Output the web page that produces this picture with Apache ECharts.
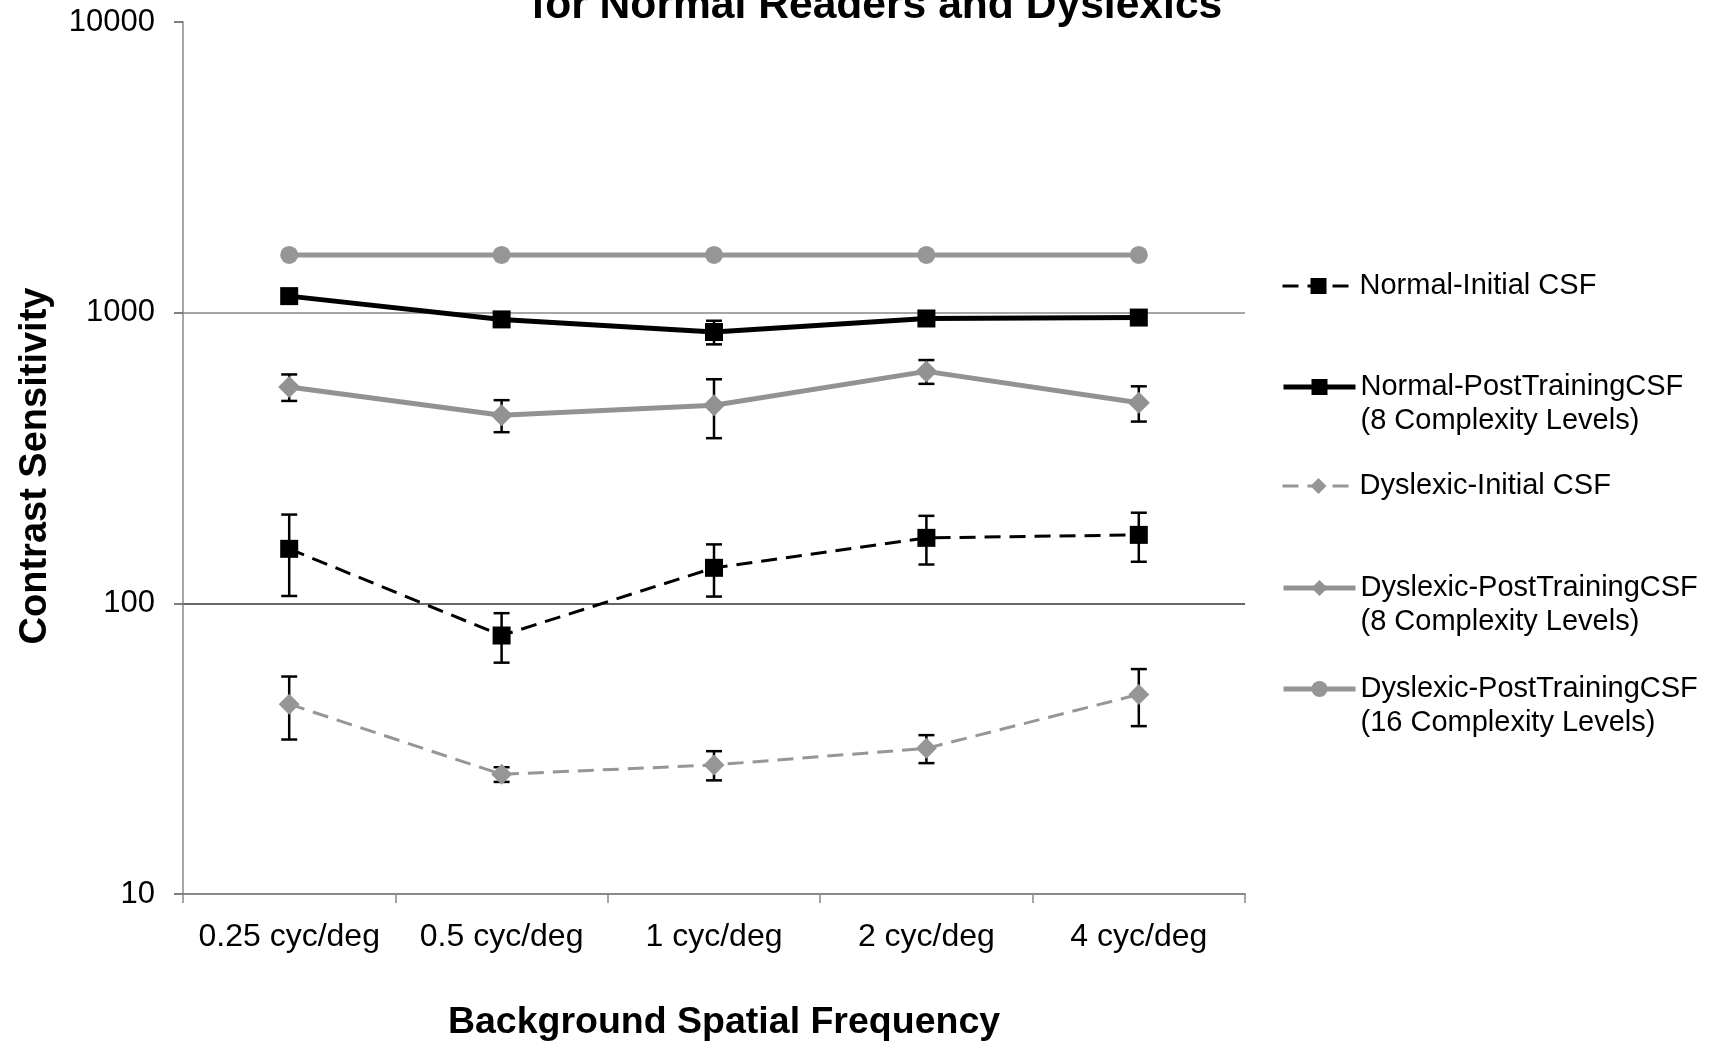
<!DOCTYPE html>
<html>
<head>
<meta charset="utf-8">
<title>Contrast Sensitivity</title>
<script src="https://cdn.jsdelivr.net/npm/echarts@6/dist/echarts.min.js"></script>
<style>
  html, body { margin: 0; padding: 0; background: #fff; }
  #chart { width: 1710px; height: 1041px; }
</style>
</head>
<body>
<div id="chart"></div>
<script>
// Background spatial frequencies (x categories)
const categories = ['0.25 cyc/deg', '0.5 cyc/deg', '1 cyc/deg', '2 cyc/deg', '4 cyc/deg'];

// Log-axis tick labels
const yTickLabels = ['10', '100', '1000', '10000'];

// Contrast sensitivity means and error half-widths per group
const normalInitial = [154, 77.5, 132.5, 168, 172];
const normalInitialErr = [48, 15, 27, 32, 33];

const normalPost8 = [1140, 948, 858, 955, 962];
const normalPost8Err = [40, 35, 80, 35, 35];

const dyslexicInitial = [45, 25.8, 27.8, 31.7, 48.6];
const dyslexicInitialErr = [11, 1.5, 3.2, 3.5, 10.8];

const dyslexicPost8 = [555, 444, 480, 628, 490];
const dyslexicPost8Err = [58, 56, 110, 59, 68];

const dyslexicPost16 = [1580, 1580, 1580, 1580, 1580];

const seriesNames = [
  'Normal-Initial CSF',
  'Normal-PostTrainingCSF\n(8 Complexity Levels)',
  'Dyslexic-Initial CSF',
  'Dyslexic-PostTrainingCSF\n(8 Complexity Levels)',
  'Dyslexic-PostTrainingCSF\n(16 Complexity Levels)'
];

const FONT = '"Liberation Sans", Arial, Helvetica, sans-serif';
const GREY = '#969696';

// Vertical error bars with caps, positioned through the axes
function errorBars(values, errs) {
  return {
    type: 'custom',
    silent: true,
    z: 1,
    data: values.map((v, i) => [i, v - errs[i], v + errs[i]]),
    encode: { x: 0, y: [1, 2] },
    renderItem: function (params, api) {
      const lo = api.coord([api.value(0), api.value(1)]);
      const hi = api.coord([api.value(0), api.value(2)]);
      const half = 8;
      const style = { stroke: '#000', lineWidth: 2.5 };
      return {
        type: 'group',
        children: [
          { type: 'line', shape: { x1: lo[0], y1: lo[1], x2: hi[0], y2: hi[1] }, style: style },
          { type: 'line', shape: { x1: lo[0] - half, y1: lo[1], x2: lo[0] + half, y2: lo[1] }, style: style },
          { type: 'line', shape: { x1: hi[0] - half, y1: hi[1], x2: hi[0] + half, y2: hi[1] }, style: style }
        ]
      };
    }
  };
}

function lineSeries(name, data, color, width, dashed, symbol, size) {
  return {
    name: name,
    type: 'line',
    data: data,
    z: 3,
    symbol: symbol,
    symbolSize: size,
    showSymbol: true,
    lineStyle: { color: color, width: width, type: dashed ? [16, 9] : 'solid' },
    itemStyle: { color: color, borderWidth: 0 },
    emphasis: { disabled: true }
  };
}

// One legend block per entry so each sits at its own height.
// Two-line entries get a blank leading line so the icon lines up with the first text line.
const legendTops = [269, 336, 469, 537, 638];
const legends = seriesNames.map((name, i) => ({
  data: [name],
  left: 1281,
  top: legendTops[i],
  orient: 'vertical',
  padding: 0,
  itemWidth: 72,
  itemHeight: 20,
  selectedMode: false,
  lineStyle: { width: 'inherit' },
  formatter: function (n) { return n.indexOf('\n') >= 0 ? ' \n' + n : n; },
  textStyle: {
    fontFamily: FONT,
    fontSize: 29,
    color: '#000',
    lineHeight: 34
  }
}));

const chart = echarts.init(document.getElementById('chart'), null, { renderer: 'canvas' });

chart.setOption({
  animation: false,
  backgroundColor: '#fff',
  title: {
    text: 'for Normal Readers and Dyslexics',
    left: 531,
    top: -15,
    padding: 0,
    textStyle: { fontFamily: FONT, fontSize: 42.6, fontWeight: 'bold', color: '#000' }
  },
  legend: legends,
  grid: { left: 183, top: 22, width: 1062, height: 872, outerBoundsMode: 'none', containLabel: false },
  xAxis: {
    type: 'category',
    data: categories,
    boundaryGap: true,
    axisLine: { show: true, lineStyle: { color: '#888', width: 2 } },
    axisTick: { show: true, length: 9, lineStyle: { color: '#888', width: 1.5 } },
    axisLabel: { fontFamily: FONT, fontSize: 32, color: '#000', margin: 27, interval: 0 },
    splitLine: { show: false },
    name: 'Background Spatial Frequency',
    nameLocation: 'middle',
    nameGap: 110,
    nameTextStyle: { fontFamily: FONT, fontSize: 37.5, fontWeight: 'bold', color: '#000', padding: [0, 0, 0, 20] }
  },
  yAxis: {
    type: 'log',
    logBase: 10,
    min: 10,
    max: 10000,
    axisLine: { show: true, lineStyle: { color: '#888', width: 1.5 } },
    axisTick: { show: true, length: 9, lineStyle: { color: '#555', width: 1.5 } },
    axisLabel: {
      fontFamily: FONT, fontSize: 31, color: '#000', margin: 28,
      formatter: function (value, index) { return yTickLabels[index]; }
    },
    splitLine: {
      show: true,
      showMinLine: false,
      showMaxLine: false,
      lineStyle: { color: ['#333', '#888'], width: 1.5 }
    },
    minorTick: { show: false },
    name: 'Contrast Sensitivity',
    nameLocation: 'middle',
    nameRotate: 90,
    nameGap: 128,
    nameTextStyle: { fontFamily: FONT, fontSize: 38, fontWeight: 'bold', color: '#000', padding: [0, 16, 0, 0] }
  },
  series: [
    errorBars(normalInitial, normalInitialErr),
    errorBars(normalPost8, normalPost8Err),
    errorBars(dyslexicInitial, dyslexicInitialErr),
    errorBars(dyslexicPost8, dyslexicPost8Err),
    lineSeries(seriesNames[0], normalInitial, '#000', 3, true, 'rect', 18),
    lineSeries(seriesNames[1], normalPost8, '#000', 5, false, 'rect', 18),
    lineSeries(seriesNames[2], dyslexicInitial, GREY, 3, true, 'diamond', 21),
    lineSeries(seriesNames[3], dyslexicPost8, '#929292', 5, false, 'diamond', 22),
    lineSeries(seriesNames[4], dyslexicPost16, GREY, 5, false, 'circle', 18)
  ]
});
</script>
</body>
</html>
